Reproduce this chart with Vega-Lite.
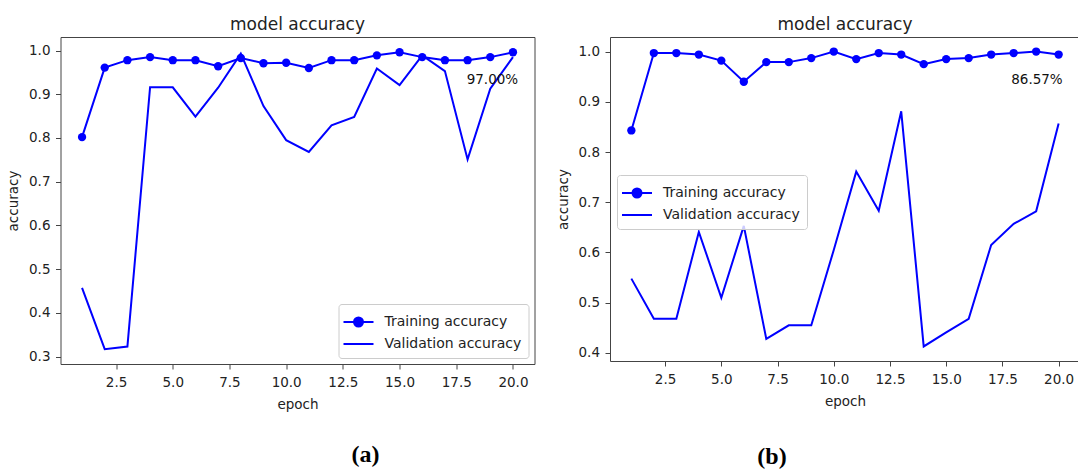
{
  "$schema": "https://vega.github.io/schema/vega-lite/v6.json",
  "background": "white",
  "padding": {"left": 5.5, "top": 15, "right": 0, "bottom": 0},
  "spacing": 19.5,
  "resolve": {"scale": {"color": "independent"}, "legend": {"color": "independent"}},
  "config": {
    "font": "DejaVu Sans",
    "view": {"stroke": "#444", "strokeWidth": 1},
    "axis": {"domain": false, "grid": false, "ticks": true, "tickSize": 5, "tickColor": "#444", "tickWidth": 1, "labelFont": "DejaVu Sans", "labelFontSize": 13.5, "labelColor": "#222", "titleFont": "DejaVu Sans", "titleFontSize": 13.5, "titleFontWeight": "normal", "titleColor": "#222"},
    "axisX": {"labelPadding": 6.5, "titlePadding": 8.5},
    "axisY": {"labelPadding": 5.5, "titlePadding": 8},
    "title": {"font": "DejaVu Sans", "fontSize": 17, "fontWeight": "normal", "color": "#222"},
    "legend": {"title": null, "labelFont": "DejaVu Sans", "labelFontSize": 14, "labelColor": "#222", "padding": 7, "strokeColor": "#cccccc", "fillColor": "rgba(255,255,255,0.8)", "cornerRadius": 3, "symbolSize": 400, "rowPadding": 2, "labelOffset": 15, "symbolOffset": 2, "symbolStrokeWidth": 2}
  },
  "datasets": {
    "a": [
      {"epoch": 1, "series": "Training accuracy", "acc": 0.802},
      {"epoch": 2, "series": "Training accuracy", "acc": 0.961},
      {"epoch": 3, "series": "Training accuracy", "acc": 0.978},
      {"epoch": 4, "series": "Training accuracy", "acc": 0.985},
      {"epoch": 5, "series": "Training accuracy", "acc": 0.978},
      {"epoch": 6, "series": "Training accuracy", "acc": 0.978},
      {"epoch": 7, "series": "Training accuracy", "acc": 0.964},
      {"epoch": 8, "series": "Training accuracy", "acc": 0.983},
      {"epoch": 9, "series": "Training accuracy", "acc": 0.971},
      {"epoch": 10, "series": "Training accuracy", "acc": 0.972},
      {"epoch": 11, "series": "Training accuracy", "acc": 0.960},
      {"epoch": 12, "series": "Training accuracy", "acc": 0.978},
      {"epoch": 13, "series": "Training accuracy", "acc": 0.978},
      {"epoch": 14, "series": "Training accuracy", "acc": 0.989},
      {"epoch": 15, "series": "Training accuracy", "acc": 0.996},
      {"epoch": 16, "series": "Training accuracy", "acc": 0.985},
      {"epoch": 17, "series": "Training accuracy", "acc": 0.978},
      {"epoch": 18, "series": "Training accuracy", "acc": 0.978},
      {"epoch": 19, "series": "Training accuracy", "acc": 0.985},
      {"epoch": 20, "series": "Training accuracy", "acc": 0.996},
      {"epoch": 1, "series": "Validation accuracy", "acc": 0.457},
      {"epoch": 2, "series": "Validation accuracy", "acc": 0.317},
      {"epoch": 3, "series": "Validation accuracy", "acc": 0.323},
      {"epoch": 4, "series": "Validation accuracy", "acc": 0.916},
      {"epoch": 5, "series": "Validation accuracy", "acc": 0.916},
      {"epoch": 6, "series": "Validation accuracy", "acc": 0.849},
      {"epoch": 7, "series": "Validation accuracy", "acc": 0.915},
      {"epoch": 8, "series": "Validation accuracy", "acc": 0.993},
      {"epoch": 9, "series": "Validation accuracy", "acc": 0.873},
      {"epoch": 10, "series": "Validation accuracy", "acc": 0.795},
      {"epoch": 11, "series": "Validation accuracy", "acc": 0.768},
      {"epoch": 12, "series": "Validation accuracy", "acc": 0.829},
      {"epoch": 13, "series": "Validation accuracy", "acc": 0.848},
      {"epoch": 14, "series": "Validation accuracy", "acc": 0.959},
      {"epoch": 15, "series": "Validation accuracy", "acc": 0.921},
      {"epoch": 16, "series": "Validation accuracy", "acc": 0.989},
      {"epoch": 17, "series": "Validation accuracy", "acc": 0.953},
      {"epoch": 18, "series": "Validation accuracy", "acc": 0.751},
      {"epoch": 19, "series": "Validation accuracy", "acc": 0.913},
      {"epoch": 20, "series": "Validation accuracy", "acc": 0.985}
    ],
    "b": [
      {"epoch": 1, "series": "Training accuracy", "acc": 0.843},
      {"epoch": 2, "series": "Training accuracy", "acc": 0.997},
      {"epoch": 3, "series": "Training accuracy", "acc": 0.997},
      {"epoch": 4, "series": "Training accuracy", "acc": 0.994},
      {"epoch": 5, "series": "Training accuracy", "acc": 0.982},
      {"epoch": 6, "series": "Training accuracy", "acc": 0.940},
      {"epoch": 7, "series": "Training accuracy", "acc": 0.979},
      {"epoch": 8, "series": "Training accuracy", "acc": 0.979},
      {"epoch": 9, "series": "Training accuracy", "acc": 0.987},
      {"epoch": 10, "series": "Training accuracy", "acc": 1.0},
      {"epoch": 11, "series": "Training accuracy", "acc": 0.985},
      {"epoch": 12, "series": "Training accuracy", "acc": 0.997},
      {"epoch": 13, "series": "Training accuracy", "acc": 0.994},
      {"epoch": 14, "series": "Training accuracy", "acc": 0.975},
      {"epoch": 15, "series": "Training accuracy", "acc": 0.985},
      {"epoch": 16, "series": "Training accuracy", "acc": 0.987},
      {"epoch": 17, "series": "Training accuracy", "acc": 0.994},
      {"epoch": 18, "series": "Training accuracy", "acc": 0.997},
      {"epoch": 19, "series": "Training accuracy", "acc": 1.0},
      {"epoch": 20, "series": "Training accuracy", "acc": 0.994},
      {"epoch": 1, "series": "Validation accuracy", "acc": 0.548},
      {"epoch": 2, "series": "Validation accuracy", "acc": 0.468},
      {"epoch": 3, "series": "Validation accuracy", "acc": 0.468},
      {"epoch": 4, "series": "Validation accuracy", "acc": 0.641},
      {"epoch": 5, "series": "Validation accuracy", "acc": 0.510},
      {"epoch": 6, "series": "Validation accuracy", "acc": 0.653},
      {"epoch": 7, "series": "Validation accuracy", "acc": 0.428},
      {"epoch": 8, "series": "Validation accuracy", "acc": 0.455},
      {"epoch": 9, "series": "Validation accuracy", "acc": 0.455},
      {"epoch": 10, "series": "Validation accuracy", "acc": 0.605},
      {"epoch": 11, "series": "Validation accuracy", "acc": 0.761},
      {"epoch": 12, "series": "Validation accuracy", "acc": 0.683},
      {"epoch": 13, "series": "Validation accuracy", "acc": 0.881},
      {"epoch": 14, "series": "Validation accuracy", "acc": 0.413},
      {"epoch": 15, "series": "Validation accuracy", "acc": 0.441},
      {"epoch": 16, "series": "Validation accuracy", "acc": 0.468},
      {"epoch": 17, "series": "Validation accuracy", "acc": 0.615},
      {"epoch": 18, "series": "Validation accuracy", "acc": 0.657},
      {"epoch": 19, "series": "Validation accuracy", "acc": 0.682},
      {"epoch": 20, "series": "Validation accuracy", "acc": 0.857}
    ],
    "noteA": [{"epoch": 20.23, "acc": 0.933, "label": "97.00%"}],
    "noteB": [{"epoch": 20.18, "acc": 0.944, "label": "86.57%"}]
  },
  "hconcat": [
    {
      "title": {"text": "(a)", "orient": "bottom", "anchor": "middle", "font": "Liberation Serif", "fontWeight": "bold", "fontSize": 24, "color": "black", "dx": 95, "offset": 31},
      "resolve": {"scale": {"color": "independent"}, "legend": {"color": "independent"}},
      "vconcat": [
        {
          "width": 474,
          "height": 327,
          "title": {"text": "model accuracy", "offset": 3.5},
          "layer": [
            {
              "data": {"name": "a"},
              "mark": {"type": "line", "strokeWidth": 2},
              "encoding": {
                "x": {"field": "epoch", "type": "quantitative", "scale": {"domain": [0.05, 20.95], "nice": false, "zero": false}, "axis": {"values": [2.5, 5, 7.5, 10, 12.5, 15, 17.5, 20], "format": ".1f", "title": "epoch"}},
                "y": {"field": "acc", "type": "quantitative", "scale": {"domain": [0.283, 1.031], "nice": false, "zero": false}, "axis": {"values": [0.3, 0.4, 0.5, 0.6, 0.7, 0.8, 0.9, 1.0], "format": ".1f", "title": "accuracy"}},
                "color": {"field": "series", "type": "nominal", "scale": {"domain": ["Training accuracy", "Validation accuracy"], "range": ["#0000ff", "#0000ff"]},
                  "legend": {"orient": "bottom-right", "offset": 6,
                    "encode": {"symbols": {"update": {
                      "shape": {"signal": "datum.value === 'Training accuracy' ? 'M-1.5,0L1.5,0M-0.45,0A0.45,0.45,0,1,1,0.45,0A0.45,0.45,0,1,1,-0.45,0Z' : 'M-1.5,0L1.5,0'"},
                      "fill": {"value": "#0000ff"}, "stroke": {"value": "#0000ff"}, "strokeWidth": {"value": 2}, "opacity": {"value": 1}}}}}}
              }
            },
            {
              "data": {"name": "a"},
              "transform": [{"filter": "datum.series === 'Training accuracy'"}],
              "mark": {"type": "point", "filled": true, "size": 70, "color": "#0000ff", "opacity": 1},
              "encoding": {
                "x": {"field": "epoch", "type": "quantitative"},
                "y": {"field": "acc", "type": "quantitative"}
              }
            },
            {
              "data": {"name": "noteA"},
              "mark": {"type": "text", "align": "right", "baseline": "middle", "fontSize": 13.5, "color": "#111", "font": "DejaVu Sans"},
              "encoding": {
                "x": {"field": "epoch", "type": "quantitative"},
                "y": {"field": "acc", "type": "quantitative"},
                "text": {"field": "label"}
              }
            }
          ]
        }
      ]
    },
    {
      "title": {"text": "(b)", "orient": "bottom", "anchor": "middle", "font": "Liberation Serif", "fontWeight": "bold", "fontSize": 24, "color": "black", "dx": -46, "offset": 36},
      "resolve": {"scale": {"color": "independent"}, "legend": {"color": "independent"}},
      "vconcat": [
        {
          "width": 470,
          "height": 324,
          "title": {"text": "model accuracy", "offset": 3.5},
          "layer": [
            {
              "data": {"name": "b"},
              "mark": {"type": "line", "strokeWidth": 2},
              "encoding": {
                "x": {"field": "epoch", "type": "quantitative", "scale": {"domain": [0.05, 20.95], "nice": false, "zero": false}, "axis": {"values": [2.5, 5, 7.5, 10, 12.5, 15, 17.5, 20], "format": ".1f", "title": "epoch"}},
                "y": {"field": "acc", "type": "quantitative", "scale": {"domain": [0.384, 1.029], "nice": false, "zero": false}, "axis": {"values": [0.4, 0.5, 0.6, 0.7, 0.8, 0.9, 1.0], "format": ".1f", "title": "accuracy"}},
                "color": {"field": "series", "type": "nominal", "scale": {"domain": ["Training accuracy", "Validation accuracy"], "range": ["#0000ff", "#0000ff"]},
                  "legend": {"orient": "none", "legendX": 7, "legendY": 138,
                    "encode": {"symbols": {"update": {
                      "shape": {"signal": "datum.value === 'Training accuracy' ? 'M-1.5,0L1.5,0M-0.45,0A0.45,0.45,0,1,1,0.45,0A0.45,0.45,0,1,1,-0.45,0Z' : 'M-1.5,0L1.5,0'"},
                      "fill": {"value": "#0000ff"}, "stroke": {"value": "#0000ff"}, "strokeWidth": {"value": 2}, "opacity": {"value": 1}}}}}}
              }
            },
            {
              "data": {"name": "b"},
              "transform": [{"filter": "datum.series === 'Training accuracy'"}],
              "mark": {"type": "point", "filled": true, "size": 70, "color": "#0000ff", "opacity": 1},
              "encoding": {
                "x": {"field": "epoch", "type": "quantitative"},
                "y": {"field": "acc", "type": "quantitative"}
              }
            },
            {
              "data": {"name": "noteB"},
              "mark": {"type": "text", "align": "right", "baseline": "middle", "fontSize": 13.5, "color": "#111", "font": "DejaVu Sans"},
              "encoding": {
                "x": {"field": "epoch", "type": "quantitative"},
                "y": {"field": "acc", "type": "quantitative"},
                "text": {"field": "label"}
              }
            }
          ]
        }
      ]
    }
  ]
}
